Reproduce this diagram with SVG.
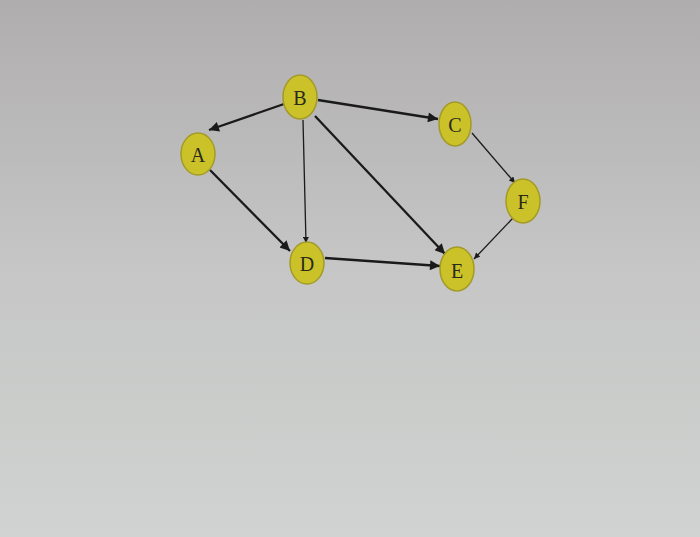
<svg xmlns="http://www.w3.org/2000/svg" width="700" height="537" viewBox="0 0 700 537">
<defs>
<linearGradient id="bg" x1="0" y1="0" x2="0" y2="1">
<stop offset="0" stop-color="#b0adaf"/>
<stop offset="0.5" stop-color="#c5c6c5"/>
<stop offset="1" stop-color="#d0d3d1"/>
</linearGradient>
<marker id="ahb" viewBox="0 0 10 10" refX="10" refY="5" markerWidth="12" markerHeight="10" orient="auto" markerUnits="userSpaceOnUse">
<path d="M0,0 L10,5 L0,10 z" fill="#1a1a1a"/>
</marker>
<marker id="ahs" viewBox="0 0 10 10" refX="10" refY="5" markerWidth="8" markerHeight="6" orient="auto" markerUnits="userSpaceOnUse">
<path d="M0,0 L10,5 L0,10 z" fill="#1a1a1a"/>
</marker>
</defs>
<style>
.node ellipse { fill: #cbc22a; stroke: #a39a28; stroke-width: 1.5; }
.node text { font-family: "Liberation Serif", serif; font-size: 20px; fill: #2a2a1a; text-anchor: middle; dominant-baseline: central; }
.e { stroke: #1a1a1a; fill: none; }
.thick { stroke-width: 2.3; marker-end: url(#ahb); }
.thin { stroke-width: 1.3; marker-end: url(#ahs); }
</style>
<rect width="700" height="537" fill="url(#bg)"/>
<g id="edges">
<line class="e thick" x1="284" y1="104" x2="209" y2="130"/>
<line class="e thick" x1="318" y1="100" x2="438" y2="119"/>
<line class="e thin" x1="303" y1="120" x2="306" y2="243"/>
<line class="e thick" x1="315" y1="116" x2="445" y2="254"/>
<line class="e thick" x1="210" y1="170" x2="290" y2="251"/>
<line class="e thick" x1="325" y1="258" x2="440" y2="266"/>
<line class="e thin" x1="472" y1="133" x2="515" y2="183"/>
<line class="e thin" x1="513" y1="218" x2="474" y2="259"/>
</g>
<g id="B" class="node"><ellipse cx="300" cy="97" rx="17" ry="22"/><text x="300" y="98">B</text></g>
<g id="A" class="node"><ellipse cx="198" cy="154" rx="17" ry="21"/><text x="198" y="155">A</text></g>
<g id="C" class="node"><ellipse cx="455" cy="124" rx="16" ry="22"/><text x="455" y="125">C</text></g>
<g id="F" class="node"><ellipse cx="523" cy="201" rx="17" ry="22"/><text x="523" y="202">F</text></g>
<g id="D" class="node"><ellipse cx="307" cy="263" rx="17" ry="21"/><text x="307" y="264">D</text></g>
<g id="E" class="node"><ellipse cx="457" cy="269" rx="17" ry="22"/><text x="457" y="271">E</text></g>
</svg>
